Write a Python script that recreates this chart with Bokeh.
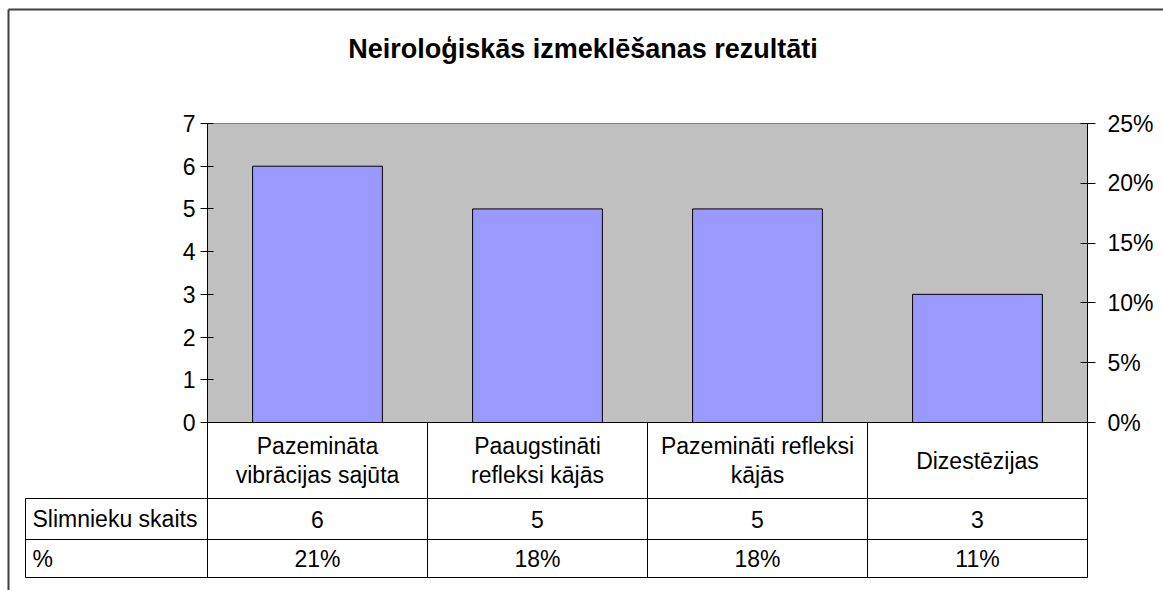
from bokeh.plotting import figure
from bokeh.models import Range1d, LinearAxis, FixedTicker, NumeralTickFormatter
from bokeh.core.properties import value
from bokeh.embed import file_html
from bokeh.resources import INLINE

# ---------------- data ----------------
title = "Neiroloģiskās izmeklēšanas rezultāti"
categories = ["Pazemināta\nvibrācijas sajūta", "Paaugstināti\nrefleksi kājās",
              "Pazemināti refleksi\nkājās", "Dizestēzijas"]
counts = [6, 5, 5, 3]
percent_labels = ["21%", "18%", "18%", "11%"]
row_labels = ["Slimnieku skaits", "%"]
count_ticks = [0, 1, 2, 3, 4, 5, 6, 7]
pct_ticks = [0, 0.05, 0.10, 0.15, 0.20, 0.25]

# ---------------- layout (canvas pixels) ----------------
W, H = 1163, 590
PL, PT, PR, PB = 207, 123, 1087, 422          # plot area
n = len(categories)
cmax = max(count_ticks)
ux = (PR - PL) / n
uy = (PB - PT) / cmax


def fx(px):
    return (px - PL) / ux


def fy(py):
    return (PB - py) / uy


FONT_NAME = "Liberation Sans"
FONT = value(FONT_NAME)
FS = "23px"

p = figure(width=W, height=H, x_range=Range1d(fx(0), fx(W)), y_range=Range1d(fy(H), fy(0)),
           min_border=0, toolbar_location=None, output_backend="svg",
           x_axis_type=None, y_axis_type=None, outline_line_color=None,
           background_fill_color="white", border_fill_color="white")

# plot area background
p.quad(left=0, right=n, bottom=0, top=cmax, fill_color="#C0C0C0", line_color=None)
p.segment(x0=[0], y0=[cmax], x1=[n], y1=[cmax], line_color="#808080", line_width=1)

# bars
xs = [i + 0.5 for i in range(n)]
p.vbar(x=xs, top=counts, width=0.59, bottom=0, fill_color="#9999FF",
       line_color="black", line_width=1)

# ---------------- data table ----------------
row_y = [fy(498), fy(539), fy(577)]
left_x = fx(25)
hx0 = [0] + [left_x] * 3
hx1 = [n] * 4
hy = [0] + row_y
p.segment(x0=hx0, y0=hy, x1=hx1, y1=hy, line_color="black", line_width=1)
vx = [left_x] + list(range(n + 1))
vy0 = [row_y[0]] + [0] * (n + 1)
vy1 = [row_y[2]] * (n + 2)
p.segment(x0=vx, y0=vy0, x1=vx, y1=vy1, line_color="black", line_width=1)

p.text(x=xs, y=[(0 + row_y[0]) / 2] * n, text=categories, text_align="center",
       text_baseline="middle", text_font=FONT, text_font_size=FS, text_color="black",
       text_line_height=1.13)
p.text(x=xs, y=[(row_y[0] + row_y[1]) / 2] * n, text=[str(c) for c in counts],
       text_align="center", text_baseline="middle", text_font=FONT, text_font_size=FS,
       text_color="black")
p.text(x=xs, y=[(row_y[1] + row_y[2]) / 2] * n, text=percent_labels,
       text_align="center", text_baseline="middle", text_font=FONT, text_font_size=FS,
       text_color="black")
p.text(x=[fx(32)] * 2, y=[(row_y[0] + row_y[1]) / 2, (row_y[1] + row_y[2]) / 2],
       text=row_labels, text_align="left", text_baseline="middle", text_font=FONT,
       text_font_size=FS, text_color="black")

# title
p.text(x=[fx(582.5)], y=[fy(48)], text=[title], text_align="center", text_baseline="middle",
       text_font=FONT, text_font_size="27px", text_font_style="bold", text_color="black")

# outer chart frame (top and left edges visible)
p.segment(x0=[fx(8), fx(8)], y0=[fy(9), fy(9)], x1=[fx(W), fx(8)], y1=[fy(9), fy(H)],
          line_color="#404040", line_width=2)

# ---------------- axes ----------------
left = LinearAxis(fixed_location=0, bounds=(0, cmax), ticker=FixedTicker(ticks=count_ticks),
                  major_tick_in=6, major_tick_out=7, minor_tick_line_color=None,
                  major_label_standoff=5, major_label_text_font=FONT_NAME,
                  major_label_text_font_size=FS, major_label_text_color="black",
                  axis_line_color="black", major_tick_line_color="black")
p.add_layout(left, "left")

ratio = max(pct_ticks) / cmax
p.extra_y_ranges = {"pct": Range1d(fy(H) * ratio, fy(0) * ratio)}
right = LinearAxis(y_range_name="pct", fixed_location=n, bounds=(0, max(pct_ticks)),
                   ticker=FixedTicker(ticks=pct_ticks), formatter=NumeralTickFormatter(format="0%"),
                   major_tick_in=7, major_tick_out=8, minor_tick_line_color=None,
                   major_label_standoff=12, major_label_text_font=FONT_NAME,
                   major_label_text_font_size=FS, major_label_text_color="black",
                   axis_line_color="black", major_tick_line_color="black")
p.add_layout(right, "right")

open("out.html", "w").write(file_html(p, INLINE))
